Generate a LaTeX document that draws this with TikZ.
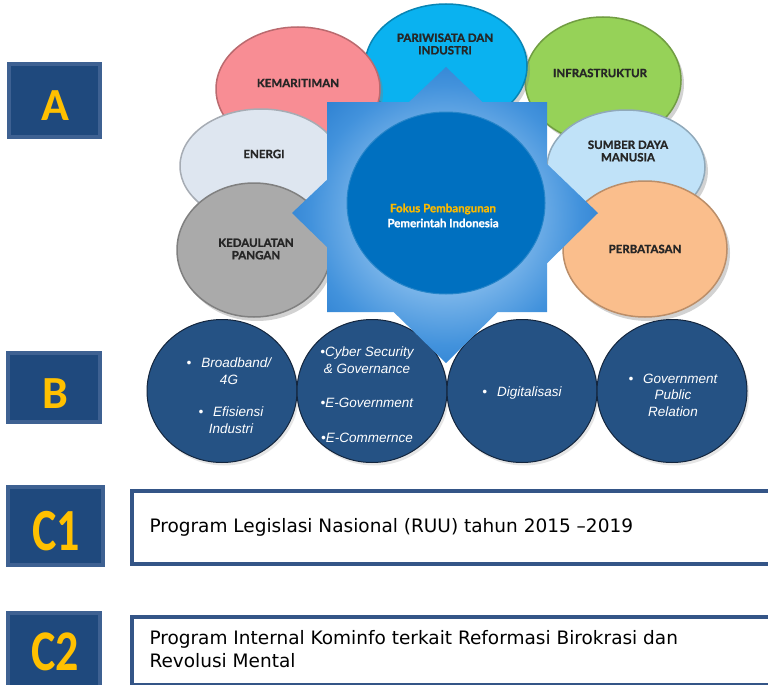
\documentclass[tikz,border=0pt]{standalone}
\usepackage{fontspec}
\usepackage{tikz}
\usetikzlibrary{shapes.geometric, shadows, positioning}
\newfontfamily\lblfont{Lato}[BoldFeatures={FakeBold=1.3}]
\newfontfamily\boxfont{Carlito}
\newfontfamily\prgfont{DejaVu Sans}
\newfontfamily\circfont{Liberation Sans}
\definecolor{navy}{RGB}{31,73,125}
\definecolor{navyedge}{RGB}{62,97,146}
\definecolor{gold}{RGB}{255,192,0}
\definecolor{prgedge}{RGB}{52,85,135}
\definecolor{pinkc}{RGB}{248,141,148}
\definecolor{cyanc}{RGB}{10,178,240}
\definecolor{greenc}{RGB}{150,210,88}
\definecolor{energic}{RGB}{222,230,240}
\definecolor{sdmc}{RGB}{192,226,248}
\definecolor{grayc}{RGB}{170,170,170}
\definecolor{peachc}{RGB}{250,190,140}
\definecolor{corec}{RGB}{0,112,192}
\definecolor{starlight}{RGB}{130,186,236}
\definecolor{starmid}{RGB}{66,146,220}
\definecolor{stardark}{RGB}{24,110,198}
\definecolor{fokusc}{RGB}{250,185,0}
\definecolor{bcirc}{RGB}{37,82,132}
\definecolor{bedge}{RGB}{20,38,62}
\pgfdeclareradialshading{starshade}{\pgfpoint{0bp}{0bp}}{color(0bp)=(starlight); color(12bp)=(starlight); color(22bp)=(starmid); color(34bp)=(stardark); color(50bp)=(stardark)}

\begin{document}
\begin{tikzpicture}[x=1pt, y=-1pt,
    bubble/.style={ellipse, fill=#1, draw=#1!75!black, line width=1.5pt,
        drop shadow={opacity=0.35, shadow xshift=3pt, shadow yshift=-4pt}},
    lbl/.style={align=center, text=black!85, font=\lblfont\bfseries\fontsize{11.5}{12.5}\selectfont},
    bfocus/.style={ellipse, fill=bcirc, draw=bedge, line width=1pt,
        minimum width=150pt, minimum height=143pt,
        drop shadow={opacity=0.2, shadow xshift=2pt, shadow yshift=-3pt}},
    btext/.style={align=center, text=white, font=\circfont\itshape\fontsize{13.5}{16.5}\selectfont},
    lettbox/.style={fill=navy, draw=navyedge, line width=4pt, inner sep=0pt},
    lett/.style={text=gold, inner sep=0pt, font=\boxfont\bfseries\fontsize{46}{46}\selectfont},
    prgbox/.style={draw=prgedge, line width=3.5pt, fill=white, inner sep=0pt},
    prgtext/.style={align=left, text=black, font=\prgfont\fontsize{18.5}{23}\selectfont}]
    \clip (0,0) rectangle (768,685);
    \fill[white] (0,0) rectangle (768,685);

    % A: focus bubbles
    \node[bubble=greenc, minimum width=156pt, minimum height=126pt] (infra) at (603,80) {};
    \node[lbl] (infraT) at (600,73) {INFRASTRUKTUR};
    \node[bubble=cyanc, minimum width=162pt, minimum height=124pt] (pari) at (446,66) {};
    \node[lbl] (pariT) at (445,44) {PARIWISATA DAN\\INDUSTRI};
    \node[bubble=pinkc, minimum width=164pt, minimum height=124pt] (kem) at (298,89) {};
    \node[lbl] (kemT) at (298,83) {KEMARITIMAN};
    \node[bubble=energic, minimum width=162pt, minimum height=114pt] (energi) at (261,166) {};
    \node[lbl] (energiT) at (264,154) {ENERGI};
    \node[bubble=grayc, minimum width=154pt, minimum height=134pt] (ked) at (254,250) {};
    \node[lbl] (kedT) at (256,249) {KEDAULATAN\\PANGAN};
    \node[bubble=sdmc, minimum width=158pt, minimum height=114pt] (sdm) at (626,167) {};
    \node[lbl] (sdmT) at (628,151) {SUMBER DAYA\\MANUSIA};
    \node[bubble=peachc, minimum width=164pt, minimum height=136pt] (perb) at (645,249) {};
    \node[lbl] (perbT) at (645,249) {PERBATASAN};

    % B: programme circles
    \node[bfocus] (b1) at (222,391) {};
    \node[bfocus] (b2) at (372,391) {};
    \node[bfocus] (b3) at (522,391) {};
    \node[bfocus] (b4) at (672,391) {};
    \node[btext] (b1a) at (229,371) {\textbullet\hspace{10pt}Broadband/\\4G};
    \node[btext] (b1b) at (231,420) {\textbullet\hspace{10pt}Efisiensi\\Industri};
    \node[btext] (b2a) at (367,360) {\textbullet Cyber Security\\\& Governance};
    \node[btext] (b2b) at (367,403) {\textbullet E-Government};
    \node[btext] (b2c) at (367,438) {\textbullet E-Commernce};
    \node[btext] (b3a) at (522,393) {\textbullet\hspace{10pt}Digitalisasi};
    \node[btext] (b4a) at (673,395) {\textbullet\hspace{10pt}Government\\Public\\Relation};

    % Star behind the core
    \shade[shading=starshade] (327,102) -- (547,102) -- (547,312) -- (327,312) -- cycle
        (446,67) -- (598,213) -- (446,363) -- (292,213) -- cycle;
    \node[ellipse, fill=corec, draw=corec!85!white, line width=1pt,
        minimum width=198pt, minimum height=182pt] (core) at (446,203) {};
    \node[lbl, text=fokusc] (fokus) at (443,209) {Fokus Pembangunan};
    \node[lbl, text=white] (pemda) at (443,223) {Pemerintah Indonesia};

    % Letter boxes
    \node[lettbox, minimum width=91pt, minimum height=73pt] (boxA) at (54.5,100.5) {};
    \node[lett] (letA) at (55,106) {A};
    \node[lettbox, minimum width=92pt, minimum height=69pt] (boxB) at (54,387.5) {};
    \node[lett] (letB) at (55,394) {B};
    \node[lettbox, minimum width=95pt, minimum height=78pt] (boxC1) at (55.5,526) {};
    \node[lett, yscale=1.3] (letC1) at (56,531) {C1};
    \node[lettbox, minimum width=92pt, minimum height=74pt] (boxC2) at (54,650) {};
    \node[lett, yscale=1.25] (letC2) at (55,652) {C2};

    % C: programme boxes
    \node[prgbox, anchor=north west, minimum width=650pt, minimum height=73pt] (c1box) at (130,489) {};
    \node[prgtext, anchor=west] (c1text) at (146,527) {Program Legislasi Nasional (RUU) tahun 2015 –2019};
    \node[prgbox, anchor=north west, minimum width=650pt, minimum height=68pt] (c2box) at (130,615) {};
    \node[prgtext, anchor=west] (c2text) at (146,649) {Program Internal Kominfo terkait Reformasi Birokrasi dan\\Revolusi Mental};
\end{tikzpicture}
\end{document}
